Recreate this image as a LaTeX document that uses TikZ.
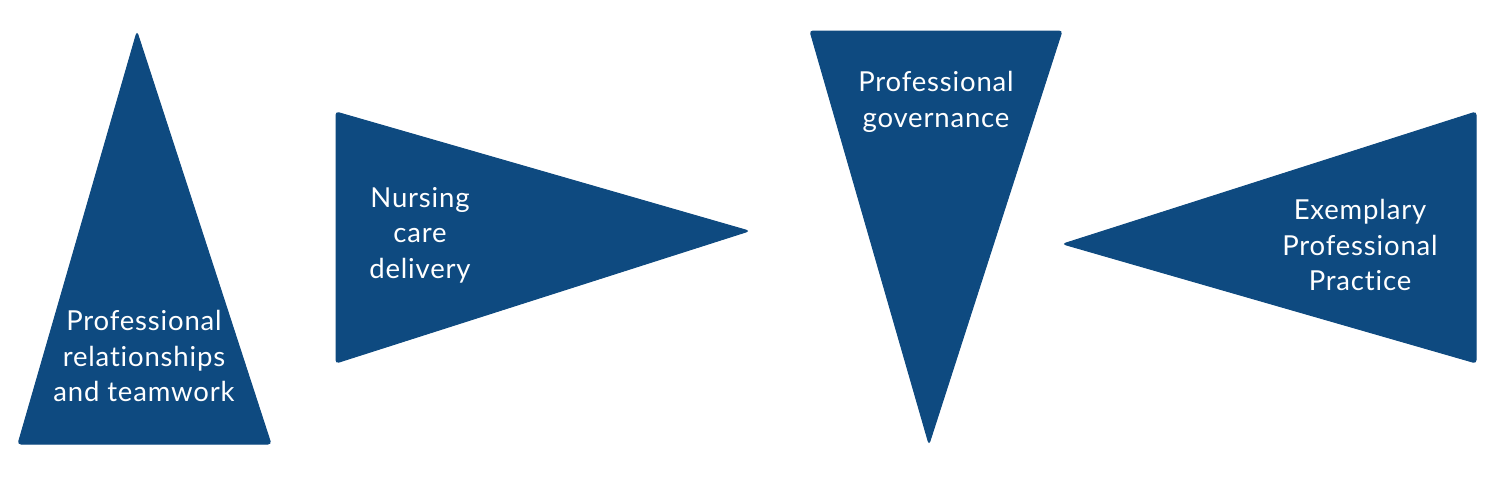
\documentclass[tikz,border=0pt]{standalone}
\usepackage{fontspec}
\setmainfont{Lato}[Ligatures=NoCommon,LetterSpace=3]
\definecolor{tri}{HTML}{0E4A80}
\begin{document}
\begin{tikzpicture}[x=1pt,y=-1pt,
  tri/.style={fill=tri,draw=tri,line width=1pt,rounded corners=3pt},
  lbl/.style={text=white,align=center,font=\fontsize{27.5}{35.5}\selectfont,inner sep=0pt}]
\useasboundingbox (0,0) rectangle (1500,479);
\draw[tri] (137,32) -- (271,444) -- (18,444) -- cycle;
\draw[tri] (336,112) -- (749,231) -- (336,363) -- cycle;
\draw[tri] (810,31) -- (1062,31) -- (929,444) -- cycle;
\draw[tri] (1476,112) -- (1476,363) -- (1063,244) -- cycle;
\node[lbl] (a) at (144,356) {Professional\\relationships\\and teamwork};
\node[lbl] (b) at (420,235) {Nursing\\care\\delivery};
\node[lbl] (c) at (936,102) {Professional\\governance};
\node[lbl] (d) at (1360,245) {Exemplary\\Professional\\Practice};
\end{tikzpicture}
\end{document}
